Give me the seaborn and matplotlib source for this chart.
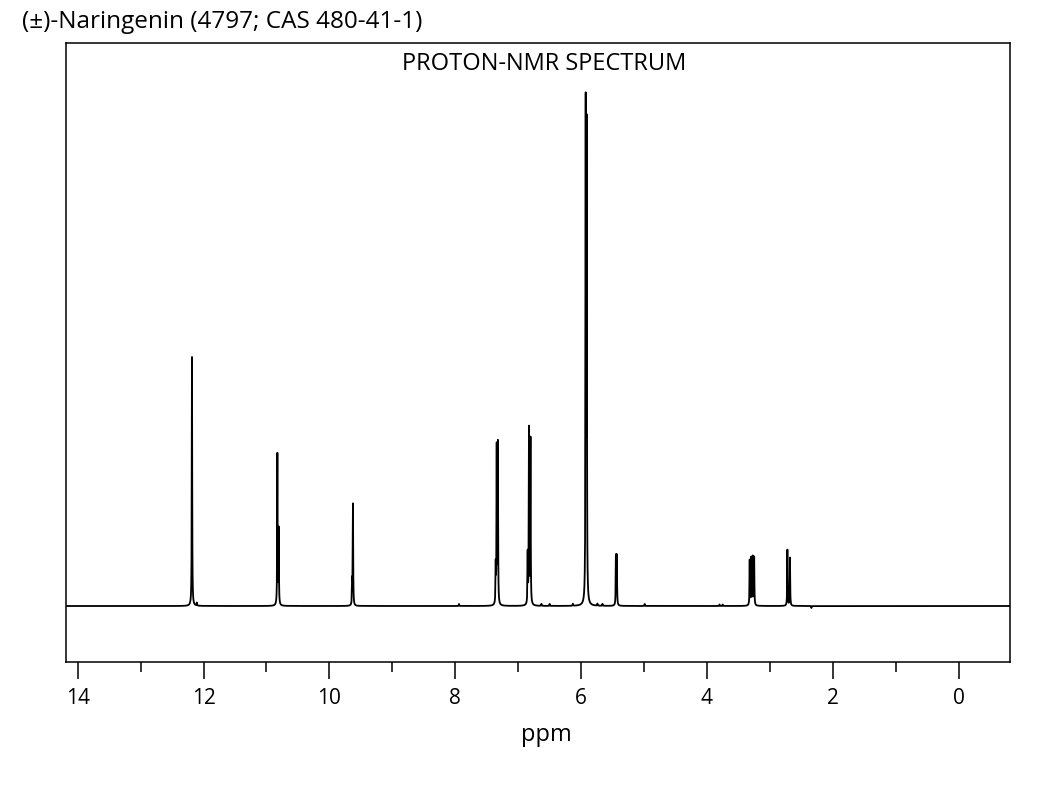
import numpy as np
import pandas as pd
import matplotlib
matplotlib.use("Agg")
import matplotlib.pyplot as plt
import seaborn as sns

# peak list: shift (ppm) and height (arbitrary, baseline = 0)
peak_ppm = [12.183, 12.105,
            10.826, 10.805,
            9.638, 9.625,
            7.94,
            7.357, 7.341, 7.322,
            6.849, 6.828, 6.804,
            6.63, 6.50, 6.13,
            5.927, 5.911,
            5.74, 5.66,
            5.447, 5.432,
            4.99,
            3.80, 3.75,
            3.321, 3.297, 3.273, 3.250,
            2.722, 2.681,
            2.34]
peak_height = [249, 3,
               151, 75,
               22, 101,
               2,
               37, 156, 160,
               50, 175, 165,
               2, 2, 2,
               490, 467,
               2, 2,
               49, 49,
               2,
               1.5, 1.5,
               45, 47, 48, 48,
               56, 48,
               -2]
line_width = 0.0037  # lorentzian half width, ppm

x_ticks = [14, 12, 10, 8, 6, 4, 2, 0]
x_minor = [13, 11, 9, 7, 5, 3, 1]

# build the trace from the peak list
ppm = np.union1d(np.arange(-1.0, 14.5, 0.0004), peak_ppm)
intensity = np.zeros_like(ppm)
for p, h in zip(peak_ppm, peak_height):
    intensity += h * line_width**2 / ((ppm - p)**2 + line_width**2)
spec = pd.DataFrame({"ppm": ppm, "intensity": intensity})

sns.set_style("white")
plt.rcParams["font.family"] = ["Open Sans", "DejaVu Sans"]
plt.rcParams["text.color"] = "black"
plt.rcParams["axes.labelcolor"] = "black"

fig = plt.figure(figsize=(10.64, 7.90), dpi=100)
ax = fig.add_axes([66 / 1064, 1 - 662 / 790, 944 / 1064, 619 / 790])

sns.lineplot(data=spec, x="ppm", y="intensity", ax=ax, color="black",
             linewidth=1.3, estimator=None, sort=False)

ax.set_xlim(14.185, -0.815)
ax.set_ylim(-56, 563)
ax.set_xticks(x_ticks)
ax.set_xticklabels([str(t) for t in x_ticks], fontsize=15)
ax.set_xticks(x_minor, minor=True)
ax.set_yticks([])
ax.tick_params(axis="x", which="both", bottom=True, direction="out",
               width=1.1, color="black", labelcolor="black")
ax.tick_params(axis="x", which="major", length=12, pad=7)
ax.tick_params(axis="x", which="minor", length=7)
for s in ax.spines.values():
    s.set_visible(True)
    s.set_linewidth(1.1)
    s.set_color("black")

ax.set_xlabel("ppm", fontsize=17, labelpad=10)
ax.xaxis.label.set_x((546 - 66) / 944)
ax.set_ylabel("")

fig.text(22 / 1064, 1 - 22 / 790, "(±)-Naringenin (4797; CAS 480-41-1)",
         fontsize=17.5, ha="left", va="center")
fig.text(544 / 1064, 1 - 64 / 790, "PROTON-NMR SPECTRUM",
         fontsize=17, ha="center", va="center")

fig.savefig("out.png", dpi=100)
